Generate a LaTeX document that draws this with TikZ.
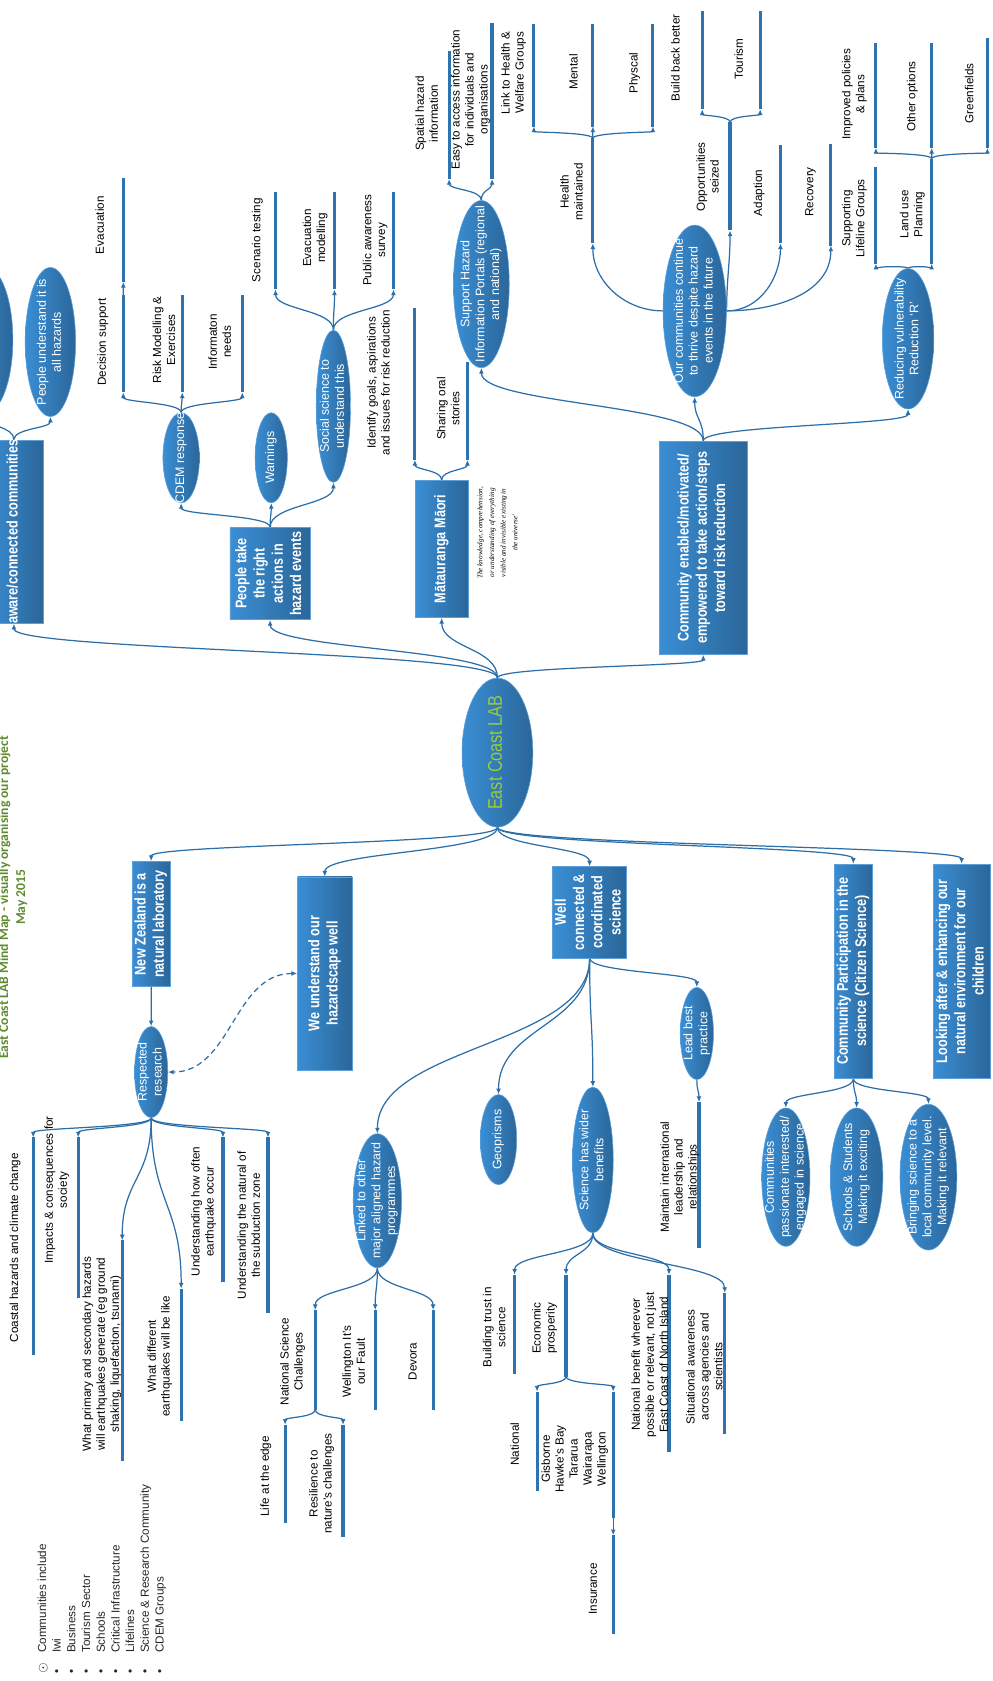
\documentclass[tikz,border=0pt]{standalone}
\usepackage{fontspec}
\setmainfont{Liberation Sans}
\newfontfamily\narrowbf[FakeStretch=0.82]{Liberation Sans Bold}
\newfontfamily\narrowrm[FakeStretch=0.82]{Liberation Sans}
\newfontfamily\titlefont{Carlito}
\newfontfamily\notefont{Liberation Serif}
\usepackage{graphicx}
\usetikzlibrary{shapes.geometric,arrows.meta,calc}

\definecolor{linkblue}{HTML}{2C6EA8}
\definecolor{barblue}{HTML}{2F72B0}
\definecolor{nodelight}{HTML}{3A8ED4}
\definecolor{nodedark}{HTML}{2B6699}
\definecolor{nodeedge}{HTML}{5C9FD9}
\definecolor{labgreen}{HTML}{9CCB3B}
\definecolor{titlegreen}{HTML}{5F8C2E}

\pgfdeclarelayer{background}
\pgfsetlayers{background,main}

% text turned to read upwards, of no size, for the filled nodes
\newcommand{\uptext}[1]{\makebox[0pt]{\raisebox{-0.5\height}[0pt][0pt]{\rotatebox{90}{\begin{tabular}{@{}c@{}}#1\end{tabular}}}}}

\begin{document}
\begin{tikzpicture}
	[x=0.02cm,y=-0.02cm,
	mapoval/.style={ellipse,left color=nodelight,right color=nodedark,draw=nodeedge,
		line width=0.3pt,inner sep=0pt,text=white,font=\fontsize{6.6}{7.9}\selectfont},
	mapbox/.style={rectangle,left color=nodelight,right color=nodedark,draw=nodeedge,
		line width=0.4pt,inner sep=0pt,text=white,font=\narrowbf\fontsize{8.2}{9.7}\selectfont},
	sz/.style 2 args={minimum width=#1*0.02cm,minimum height=#2*0.02cm},
	leaftext/.style={rotate=90,align=center,inner sep=0pt,font=\fontsize{6.2}{7.4}\selectfont},
	leafbar/.style={draw=barblue,line width=1.7pt},
	link/.style={draw=linkblue,line width=0.65pt,-{Latex[length=3pt,width=2.6pt]}},
	branch/.style={to path={.. controls ($(\tikztostart)!0.5!(\tikztostart|-\tikztotarget)$)
			and ($(\tikztotarget)!0.5!(\tikztotarget|-\tikztostart)$) .. (\tikztotarget)}}]
	\path[use as bounding box] (0,0) rectangle (926,1568);
	
	% centre
	\node[mapoval,sz={66}{139},font=\narrowrm\fontsize{10.5}{12}\selectfont,text=labgreen] (ecl) at (464,702) {\uptext{East Coast LAB}};
	
	% upper half
	\node[mapbox,sz={54}{171}] (aware) at (13,496) {\uptext{aware/connected communities}};
	\node[mapoval,sz={50}{136}] (cutell) at (-13,317) {};
	\node[mapoval,sz={47}{139}] (pua) at (47,319) {\uptext{People understand it is\\all hazards}};
	\node[mapbox,sz={75}{86}] (ptr) at (252,535) {\uptext{People take\\the right\\actions in\\hazard events}};
	\node[mapoval,sz={34}{84}] (cdem) at (169,427) {\uptext{CDEM response}};
	\node[mapoval,sz={30}{84}] (warn) at (253,427) {\uptext{Warnings}};
	\node[mapoval,sz={32}{142}] (soc) at (311,379) {\uptext{Social science to\\understand this}};
	\node[mapbox,sz={49}{128}] (mat) at (412,512) {\uptext{Mātauranga Māori}};
	\node[rotate=90,align=center,inner sep=0pt,font=\notefont\itshape\fontsize{3.8}{6.2}\selectfont] (note) at (464,497)
	{The knowledge, comprehension,\\or understanding of everything\\visible and invisible existing in\\the universe'};
	\node[mapbox,sz={82}{199}] (cen) at (656,511) {\uptext{Community enabled/motivated/\\empowered to take action/steps\\toward risk reduction}};
	\node[mapoval,sz={52}{156}] (sup) at (449,265) {\uptext{Support Hazard\\Information Portals (regional\\and national)}};
	\node[mapoval,sz={59}{160}] (ourc) at (648,290) {\uptext{Our communities continue\\to thrive despite hazard\\events in the future}};
	\node[mapoval,sz={48}{131}] (red) at (847,316) {\uptext{Reducing vulnerability\\Reduction `R'}};
	
	% lower half
	\node[mapbox,sz={35}{117}] (nz) at (141,862) {\uptext{New Zealand is a\\natural laboratory}};
	\node[mapoval,sz={31}{85}] (res) at (141,1000) {\uptext{Respected\\research}};
	\node[mapbox,sz={51}{180}] (wu) at (303,908) {\uptext{We understand our\\hazardscape well}};
	\node[mapbox,sz={69}{85}] (wc) at (550,851) {\uptext{Well\\connected \&\\coordinated\\science}};
	\node[mapoval,sz={45}{125}] (lk) at (352,1120) {\uptext{Linked to other\\major aligned hazard\\programmes}};
	\node[mapoval,sz={34}{84}] (geo) at (465,1063) {\uptext{Geoprisms}};
	\node[mapoval,sz={38}{136}] (sci) at (553,1082) {\uptext{Science has wider\\benefits}};
	\node[mapoval,sz={31}{86}] (lbp) at (650,964) {\uptext{Lead best\\practice}};
	\node[mapbox,sz={36}{200}] (cp) at (796,906) {\uptext{Community Participation in the\\science (Citizen Science)}};
	\node[mapbox,sz={53}{200}] (la) at (897,906) {\uptext{Looking after \& enhancing our\\natural environment for our\\children}};
	\node[mapoval,sz={45}{129}] (cpi) at (733,1098) {\uptext{Communities\\passionate interested/\\engaged in science}};
	\node[mapoval,sz={49}{129}] (ss) at (799,1098) {\uptext{Schools \& Students\\Making it exciting}};
	\node[mapoval,sz={53}{136}] (bs) at (866,1098) {\uptext{Bringing science to a\\local community level.\\Making it relevant}};
	
	% title and list
	\node[rotate=90,align=center,inner sep=0pt,text=titlegreen,font=\titlefont\bfseries\fontsize{7.2}{9}\selectfont] (title) at (12,837)
	{East Coast LAB Mind Map - visually organising our project\\May 2015};
	\node[rotate=90,anchor=north west,inner sep=0pt,text=black!85,font=\fontsize{6.2}{7.8}\selectfont] (groups) at (33,1561)
	{\begin{tabular}{@{}l@{\hspace{5pt}}l@{}}
			$\odot$ & Communities include\\
			\textbullet & Iwi\\
			\textbullet & Business\\
			\textbullet & Tourism Sector\\
			\textbullet & Schools\\
			\textbullet & Critical Infrastructure\\
			\textbullet & Lifelines\\
			\textbullet & Science \& Research Community\\
			\textbullet & CDEM Groups
	\end{tabular}};
	
	% leaf bars: name/x/arrow end/free end
	\foreach \n/\x/\ya/\yb in {dec/115/366/275,evac/115/263/166,risk/170/366/275,info/226/366/275,
		scen/257/270/179,evm/312/270/179,paw/367/270/179,idg/387/429/287,sos/436/429/338,
		spat/419/167/48,easy/459/167/21,hm/553/227/129,lh/498/118/22,mnt/553/118/22,phy/609/118/22,
		ops/681/215/114,bbb/655/102/10,tour/709/102/10,adp/728/227/135,rcv/775/229/134,
		slg/817/246/156,lu/869/246/148,ipp/817/138/40,oth/869/138/40,grf/921/138/35,
		chc/31/1061/1264,imp/73/1061/1211,wps/114/1157/1363,wde/169/1202/1325,uho/208/1061/1196,unz/250/1061/1225,
		nsc/294/1222/1315,wif/350/1222/1315,dev/404/1222/1315,lte/266/1329/1421,rnc/320/1329/1434,
		mil/652/1028/1164,btr/480/1189/1282,eco/528/1189/1284,nbw/624/1189/1354,sit/676/1206/1338,
		nat/501/1298/1391,reg/572/1298/1416,ins/572/1432/1524}
	{
		\coordinate (\n) at (\x,\ya);
		\coordinate (e\n) at (\x,\yb);
		\draw[leafbar] (\n) -- (e\n);
	}
	
	% leaf texts
	\foreach \n/\x/\y/\txt in {tdec/96/319/{Decision support},tevac/93/210/{Evacuation},
		trisk/153/317/{Risk Modelling \&\\Exercises},tinfo/205/319/{Informaton\\needs},
		tscen/240/224/{Scenario testing},tevm/294/222/{Evacuation\\modelling},tpaw/350/224/{Public awareness\\survey},
		tidg/353/357/{Identify goals, aspirations\\and issues for risk reduction},tsos/418/381/{Sharing oral\\stories},
		tspat/398/106/{Spatial hazard\\information},teasy/439/93/{Easy to access information\\for individuals and\\organisations},
		tlh/479/68/{Link to Health \&\\Welfare Groups},tmnt/535/67/{Mental},tphy/592/68/{Physcal},thm/533/179/{Health\\maintained},
		tbbb/630/54/{Build back better},ttour/689/55/{Tourism},tops/660/165/{Opportunities\\seized},
		tadp/708/180/{Adaption},trcv/756/179/{Recovery},tslg/797/204/{Supporting\\Lifeline Groups},
		tlu/851/200/{Land use\\Planning},tipp/797/88/{Improved policies\\\& plans},toth/851/90/{Other options},tgrf/904/87/{Greenfields},
		tchc/14/1164/{Coastal hazards and climate change},timp/53/1110/{Impacts \& consequences for\\society},
		twps/95/1263/{What primary and secondary hazards\\will earthquakes generate (eg ground\\shaking, liquefaction, tsunami)},
		twde/149/1265/{What different\\earthquakes will be like},tuho/190/1130/{Understanding how often\\earthquake occur},
		tunz/232/1143/{Understanding the natural of\\the subduction zone},
		tnsc/273/1270/{National Science\\Challenges},twif/330/1270/{Wellington It's\\our Fault},tdev/385/1270/{Devora},
		tlte/248/1377/{Life at the edge},trnc/300/1384/{Resilience to\\nature's challenges},
		tmil/634/1098/{Maintain international\\leadership and\\relationships},
		tbtr/461/1238/{Building trust in\\science},teco/508/1239/{Economic\\prosperity},tnat/480/1347/{National},
		treg/536/1361/{Gisborne\\Hawke's Bay\\Tararua\\Wairarapa\\Wellington},tins/553/1482/{Insurance},
		tnbw/606/1273/{National benefit wherever\\possible or relevant, not just\\East Coast of North Island},
		tsit/657/1275/{Situational awareness\\across agencies and\\scientists}}
	\node[leaftext] (\n) at (\x,\y) {\txt};
	
	% connectors
	\begin{pgfonlayer}{background}
		\fill[white] (0,0) rectangle (926,1568);
		\path
		\foreach \startNode/\endNode in {ecl.north/aware.south,ecl.north/ptr.south,ecl.north/mat.south,ecl.north/cen.south,
			aware.north/pua.south,aware.north/cutell.south,
			ptr.north/cdem.south,ptr.north/warn.south,ptr.north/soc.south,
			cdem.north/dec,cdem.north/risk,cdem.north/info,edec/evac,
			soc.north/scen,soc.north/evm,soc.north/paw,mat.north/idg,mat.north/sos,
			cen.north/sup.south,cen.north/ourc.south,cen.north/red.south,
			sup.north/spat,sup.north/easy,ehm/lh,ehm/mnt,ehm/phy,eops/bbb,eops/tour,
			red.north/slg,red.north/lu,elu/ipp,elu/oth,elu/grf,
			ecl.south/nz.north,ecl.south/wu.north,ecl.south/wc.north,ecl.south/cp.north,ecl.south/la.north,
			nz.south/res.north,res.south/chc,res.south/imp,res.south/wps,res.south/wde,res.south/uho,res.south/unz,
			wc.south/lk.north,wc.south/geo.north,wc.south/sci.north,wc.south/lbp.north,lbp.south/mil,
			lk.south/nsc,lk.south/wif,lk.south/dev,ensc/lte,ensc/rnc,
			sci.south/btr,sci.south/eco,sci.south/nbw,sci.south/sit,eeco/nat,eeco/reg,ereg/ins,
			cp.south/cpi.north,cp.south/ss.north,cp.south/bs.north}
		{
			(\startNode) edge[link,branch] (\endNode)
		};
		\draw[link] (ourc.west) to[out=180,in=-90] (hm);
		\draw[link] (ourc.east) to[out=90,in=-90] (ops);
		\draw[link] (ourc.east) to[out=0,in=-90] (adp);
		\draw[link] (ourc.east) to[out=0,in=-90] (rcv);
		\draw[link,dash pattern=on 3pt off 2pt,{Latex[length=3pt,width=2.6pt]}-{Latex[length=3pt,width=2.6pt]}]
		(wu.west) to[out=180,in=0] (res.east);
	\end{pgfonlayer}
\end{tikzpicture}
\end{document}
